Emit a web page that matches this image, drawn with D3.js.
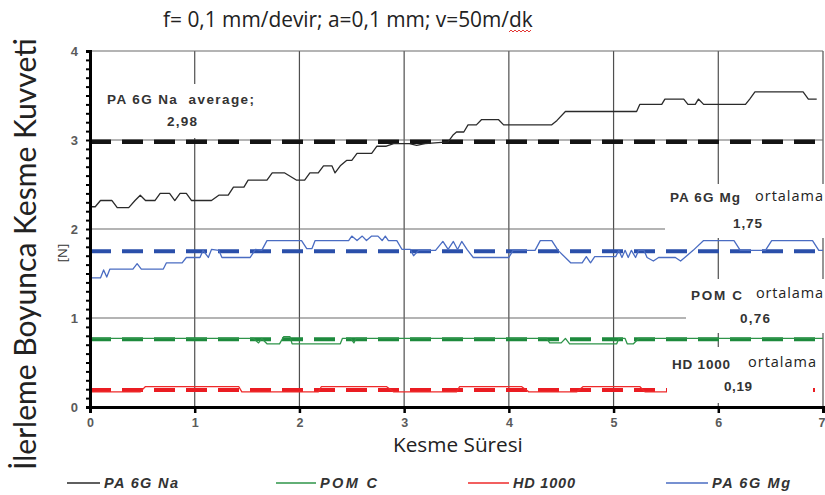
<!DOCTYPE html>
<html>
<head>
<meta charset="utf-8">
<script src="https://cdn.jsdelivr.net/npm/d3@7"></script>
<style>
  body { margin: 0; background: #fff; }
  svg { display: block; }
</style>
</head>
<body>
<svg id="chart" width="825" height="495"></svg>
<script>
// ---- data -------------------------------------------------------------
const xTickValues = [0, 1, 2, 3, 4, 5, 6, 7];
const yTickValues = [0, 1, 2, 3, 4];

// [time, force] pairs, step-like recordings
const paNa = [
  [0.00,2.25],[0.05,2.25],[0.10,2.32],[0.21,2.32],[0.26,2.24],[0.37,2.24],[0.43,2.32],[0.48,2.38],
  [0.53,2.32],[0.62,2.32],[0.67,2.40],[0.76,2.40],[0.81,2.32],[0.86,2.40],[0.92,2.40],[0.97,2.32],
  [1.16,2.32],[1.23,2.38],[1.32,2.38],[1.37,2.47],[1.47,2.47],[1.51,2.55],[1.69,2.55],[1.74,2.63],
  [1.86,2.63],[1.97,2.55],[2.05,2.55],[2.10,2.63],[2.18,2.63],[2.23,2.71],[2.31,2.71],[2.34,2.63],
  [2.39,2.71],[2.45,2.77],[2.50,2.77],[2.55,2.85],[2.69,2.85],[2.74,2.93],[2.83,2.93],[2.90,2.96],
  [3.05,2.96],[3.12,2.94],[3.20,2.96],[3.42,2.98],[3.47,3.06],[3.50,3.09],[3.57,3.09],[3.61,3.17],
  [3.69,3.17],[3.74,3.23],[3.90,3.23],[3.95,3.17],[4.41,3.17],[4.46,3.22],[4.54,3.32],[5.22,3.32],
  [5.25,3.40],[5.46,3.40],[5.49,3.46],[5.67,3.46],[5.71,3.40],[5.78,3.40],[5.81,3.46],[5.86,3.40],
  [6.26,3.40],[6.30,3.46],[6.35,3.54],[6.81,3.54],[6.86,3.46],[6.94,3.46]
];
const paMg = [
  [0.00,1.45],[0.10,1.45],[0.13,1.54],[0.16,1.46],[0.19,1.55],[0.41,1.55],[0.45,1.61],[0.49,1.55],
  [0.70,1.55],[0.73,1.62],[0.88,1.62],[0.92,1.68],[1.05,1.68],[1.08,1.76],[1.13,1.68],[1.16,1.77],
  [1.23,1.76],[1.26,1.68],[1.53,1.68],[1.58,1.77],[1.64,1.76],[1.69,1.87],[2.02,1.87],[2.07,1.78],
  [2.12,1.78],[2.15,1.87],[2.47,1.87],[2.50,1.92],[2.55,1.87],[2.60,1.92],[2.64,1.87],[2.69,1.92],
  [2.75,1.92],[2.79,1.87],[2.82,1.92],[2.85,1.87],[2.93,1.87],[2.98,1.77],[3.06,1.77],[3.09,1.70],
  [3.14,1.76],[3.30,1.76],[3.37,1.86],[3.42,1.77],[3.47,1.86],[3.51,1.77],[3.55,1.86],[3.60,1.77],
  [3.66,1.68],[4.00,1.68],[4.04,1.76],[4.25,1.76],[4.30,1.87],[4.41,1.87],[4.47,1.76],[4.59,1.62],
  [4.70,1.62],[4.74,1.69],[4.78,1.62],[4.82,1.69],[5.02,1.69],[5.05,1.76],[5.08,1.68],[5.11,1.76],
  [5.14,1.68],[5.17,1.76],[5.21,1.68],[5.24,1.76],[5.29,1.76],[5.32,1.68],[5.38,1.64],[5.43,1.68],
  [5.59,1.68],[5.64,1.64],[5.68,1.68],[5.76,1.76],[5.86,1.87],[6.15,1.87],[6.21,1.76],[6.45,1.76],
  [6.51,1.87],[6.90,1.87],[6.96,1.76],[7.00,1.76]
];
const pomC = [
  [0.00,0.77],[1.56,0.77],[1.61,0.72],[1.64,0.77],[1.69,0.71],[1.81,0.71],[1.85,0.79],[1.91,0.79],
  [1.93,0.71],[2.39,0.71],[2.41,0.77],[2.49,0.77],[2.52,0.72],[2.54,0.77],[4.36,0.77],[4.39,0.72],
  [4.50,0.72],[4.54,0.77],[4.58,0.71],[5.03,0.71],[5.05,0.77],[5.11,0.77],[5.13,0.71],[5.19,0.71],
  [5.24,0.77],[7.00,0.77]
];
const hd1000 = [
  [0.00,0.17],[0.48,0.17],[0.53,0.23],[1.42,0.23],[1.45,0.17],[2.18,0.17],[2.21,0.23],[2.83,0.23],
  [2.90,0.17],[3.50,0.17],[3.53,0.23],[4.12,0.23],[4.19,0.17],[4.65,0.17],[4.71,0.23],[5.25,0.23],
  [5.30,0.17],[5.51,0.17]
];

const seriesNames = ["PA 6G Na", "POM C", "HD 1000", "PA 6G Mg"];
const averageValues = [2.98, 0.76, 0.19, 1.75];
const averageLabels = ["2,98", "0,76", "0,19", "1,75"];

// ---- styling ----------------------------------------------------------
const lineColors = { "PA 6G Na": "#2a2a2a", "POM C": "#2e9449", "HD 1000": "#ee2a2a", "PA 6G Mg": "#4a6cc2" };
const dashColors = { "PA 6G Na": "#141414", "POM C": "#1d8a3d", "HD 1000": "#ea1c22", "PA 6G Mg": "#2a4faa" };
const seriesData = { "PA 6G Na": paNa, "POM C": pomC, "HD 1000": hd1000, "PA 6G Mg": paMg };

const svg = d3.select("#chart");
const x = d3.scaleLinear().domain([0, 7]).range([90, 823]);
const y = d3.scaleLinear().domain([0, 4]).range([407, 51]);

// gridlines
const grid = svg.append("g");
grid.selectAll("line.v").data(xTickValues.slice(1)).join("line")
  .attr("x1", d => x(d)).attr("x2", d => x(d))
  .attr("y1", y(4)).attr("y2", y(0))
  .attr("stroke", "#4f4f4f").attr("stroke-width", 1.2);
grid.selectAll("line.h").data(yTickValues.slice(1)).join("line")
  .attr("x1", x(0)).attr("x2", x(7))
  .attr("y1", d => y(d)).attr("y2", d => y(d))
  .attr("stroke", "#6a6a6a").attr("stroke-width", 1.2);

// average (dashed) lines
const avgG = svg.append("g");
seriesNames.forEach((name, i) => {
  avgG.append("line")
    .attr("x1", x(0)).attr("x2", x(7))
    .attr("y1", y(averageValues[i])).attr("y2", y(averageValues[i]))
    .attr("stroke", dashColors[name])
    .attr("stroke-width", name === "PA 6G Na" ? 4.5 : 4)
    .attr("stroke-dasharray", "21,11");
});

// measured lines
const line = d3.line().x(d => x(d[0])).y(d => y(d[1]));
const lineG = svg.append("g");
seriesNames.forEach(name => {
  lineG.append("path")
    .datum(seriesData[name])
    .attr("d", line)
    .attr("fill", "none")
    .attr("stroke", lineColors[name])
    .attr("stroke-width", 1.3)
    .attr("stroke-linejoin", "round");
});

// axes
const isWhole = d => Math.abs(d - Math.round(d)) < 1e-9;
const yAxis = d3.axisLeft(y)
  .tickValues(d3.range(0, 40.5, 1).map(v => v / 10))
  .tickSize(4)
  .tickPadding(8)
  .tickFormat(d => isWhole(d) ? d3.format("d")(d) : "");
const gy = svg.append("g").attr("transform", `translate(${x(0)},0)`).call(yAxis);
gy.select(".domain").attr("stroke", "#000").attr("stroke-width", 3);
gy.selectAll(".tick line").attr("stroke", "#000").attr("stroke-width", 2);
gy.selectAll(".tick text")
  .attr("font-family", "Liberation Sans, Arial, sans-serif")
  .attr("font-size", 13).attr("font-weight", "bold").attr("fill", "#5a5a5a");

const xAxis = d3.axisBottom(x).tickValues(xTickValues).tickSize(6).tickPadding(5).tickFormat(d3.format("d"));
const gx = svg.append("g").attr("transform", `translate(0,${y(0)})`).call(xAxis);
gx.select(".domain").attr("stroke", "#000").attr("stroke-width", 3);
gx.selectAll(".tick line").attr("stroke", "#000").attr("stroke-width", 2.5);
gx.selectAll(".tick text")
  .attr("font-family", "Liberation Sans, Arial, sans-serif")
  .attr("font-size", 12.5).attr("font-weight", "bold").attr("fill", "#5a5a5a");
// last tick label sits against the right edge of the canvas
gx.selectAll(".tick text").filter(d => d === 7).attr("text-anchor", "end").attr("dx", 2);

// annotation text boxes (white fill over the plot)
const boldFont = "Liberation Sans, Arial, sans-serif";
const plainFont = "Open Sans, sans-serif";
const notes = [
  { box: [100, 84, 165, 54], parts: [
      { t: "PA 6G Na  average;", x: 107, y: 104, bold: true, w: 147 },
      { t: averageLabels[0], x: 167, y: 126, bold: true, w: 30 } ] },
  { box: [665, 184, 160, 54], parts: [
      { t: "PA 6G Mg", x: 670, y: 202, bold: true, w: 70 },
      { t: "ortalama", x: 755, y: 201, bold: false, w: 68 },
      { t: averageLabels[3], x: 733, y: 228, bold: true, w: 29 } ] },
  { box: [686, 279, 139, 54], parts: [
      { t: "POM C", x: 691, y: 300, bold: true, w: 51 },
      { t: "ortalama", x: 756, y: 298, bold: false, w: 67 },
      { t: averageLabels[1], x: 740, y: 323, bold: true, w: 30 } ] },
  { box: [667, 347, 146, 56], parts: [
      { t: "HD 1000", x: 672, y: 369, bold: true, w: 58 },
      { t: "ortalama", x: 748, y: 367, bold: false, w: 68 },
      { t: averageLabels[2], x: 724, y: 391, bold: true, w: 28 } ] }
];
const noteG = svg.append("g");
notes.forEach(n => {
  noteG.append("rect")
    .attr("x", n.box[0]).attr("y", n.box[1]).attr("width", n.box[2]).attr("height", n.box[3])
    .attr("fill", "#fff");
  n.parts.forEach(p => {
    noteG.append("text")
      .attr("x", p.x).attr("y", p.y)
      .attr("font-family", p.bold ? boldFont : plainFont)
      .attr("font-size", p.bold ? 13.5 : 14.5)
      .attr("font-weight", p.bold ? "bold" : "normal")
      .attr("fill", p.bold ? "#333" : "#222")
      .attr("textLength", p.w)
      .attr("lengthAdjust", "spacing")
      .attr("xml:space", "preserve")
      .text(p.t);
  });
});

// titles
function fitText(sel, target) {
  const w = sel.node().getComputedTextLength();
  const fs = parseFloat(sel.attr("font-size"));
  sel.attr("font-size", fs * target / w);
}

const title = svg.append("text")
  .attr("x", 163).attr("y", 27)
  .attr("font-family", plainFont).attr("font-size", 16).attr("fill", "#222")
  .text("f= 0,1 mm/devir; a=0,1 mm; v=50m/dk");
fitText(title, 370);

// spell-check squiggle under "dk"
{
  const str = title.text();
  const i = str.lastIndexOf("dk");
  const node = title.node();
  const x0 = node.getStartPositionOfChar(i).x;
  const x1 = node.getEndPositionOfChar(i + 1).x;
  const pts = [];
  for (let k = 0, px = x0; px <= x1; k++, px += 2) pts.push([px, k % 2 ? 30 : 32]);
  svg.append("path").attr("d", d3.line()(pts)).attr("fill", "none")
    .attr("stroke", "#e0201e").attr("stroke-width", 0.9);
}

const xTitle = svg.append("text")
  .attr("x", 393).attr("y", 452)
  .attr("font-family", plainFont).attr("font-size", 17).attr("fill", "#222")
  .text("Kesme Süresi");
fitText(xTitle, 130);

const yTitle = svg.append("text")
  .attr("transform", "translate(36,470) rotate(-90)")
  .attr("font-family", "Lato, Open Sans, sans-serif").attr("font-size", 24).attr("fill", "#222")
  .text("İlerleme Boyunca Kesme Kuvveti");
fitText(yTitle, 432);

svg.append("text")
  .attr("transform", "translate(67,253) rotate(-90)")
  .attr("text-anchor", "middle")
  .attr("font-family", plainFont).attr("font-size", 13).attr("fill", "#333")
  .text("[N]");

// legend
const legendPos = [[67, 104, 74], [276, 320, 57], [468, 513, 62], [666, 712, 78]];
const legG = svg.append("g");
seriesNames.forEach((name, i) => {
  const [lx, tx, tw] = legendPos[i];
  legG.append("line")
    .attr("x1", lx).attr("x2", tx - 4).attr("y1", 483).attr("y2", 483)
    .attr("stroke", lineColors[name]).attr("stroke-width", 1.3);
  legG.append("text")
    .attr("x", tx).attr("y", 488)
    .attr("font-family", boldFont).attr("font-size", 14.5)
    .attr("font-weight", "bold").attr("font-style", "italic").attr("fill", "#333")
    .attr("textLength", tw).attr("lengthAdjust", "spacing")
    .text(name);
});
</script>
</body>
</html>
